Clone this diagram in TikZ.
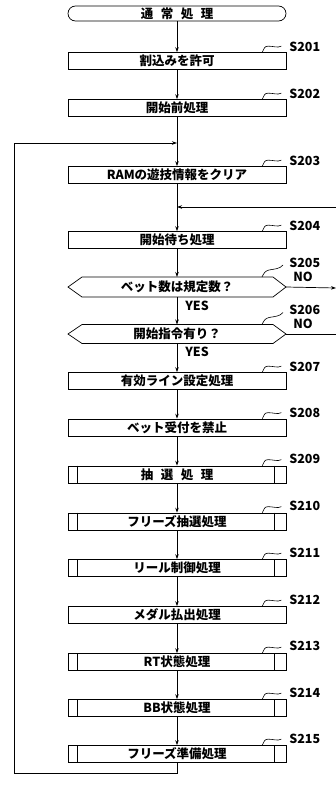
\documentclass[tikz,border=0pt]{standalone}
\usepackage{fontspec}
\setmainfont{Noto Sans CJK JP}
\usetikzlibrary{arrows.meta}
\begin{document}
\begin{tikzpicture}[x=1pt,y=-1pt,
  line width=0.7pt,
  font=\fontsize{12.5}{14}\selectfont\bfseries,
  proc/.style={draw,rectangle,minimum width=218pt,minimum height=17pt,inner sep=0pt},
  pre/.style={proc,append after command={
     ([xshift=10pt]\tikzlastnode.north west) edge[-] ([xshift=10pt]\tikzlastnode.south west)
     ([xshift=-12pt]\tikzlastnode.north east) edge[-] ([xshift=-12pt]\tikzlastnode.south east)}},
  term/.style={draw,rectangle,rounded corners=7.5pt,minimum width=218pt,minimum height=15pt,inner sep=0pt},
  txt/.style={inner sep=0pt},
  lab/.style={anchor=west,inner sep=0pt,font=\fontsize{12.5}{14}\selectfont\bfseries},
  arr/.style={-{Stealth[length=5pt,width=3.5pt]}},
  sq/.style={line width=0.6pt}
]
\useasboundingbox (0,0) rectangle (336,787);
% terminal
\node[term] (t0) at (177,13.5) {通\hspace{0.6em}常\hspace{0.6em}処\hspace{0.6em}理};
% process boxes
\node[proc] (s201) at (177,61) {割込みを許可};
\node[proc] (s202) at (177,108) {開始前処理};
\node[proc] (s203) at (177,175) {RAMの遊技情報をクリア};
\node[proc] (s204) at (177,240) {開始待ち処理};
% hexagons
\node[txt] (s205) at (177,287) {ベット数は規定数？};
\draw (68,287) -- (82,277) -- (273,277) -- (286,287) -- (273,297) -- (82,297) -- cycle;
\coordinate (s205t) at (177,277);
\coordinate (s205b) at (177,297);
\coordinate (s205r) at (286,287);
\node[txt] (s206) at (177,334) {開始指令有り？};
\draw (68,334) -- (82,324.5) -- (273,324.5) -- (286,334) -- (273,343.5) -- (82,343.5) -- cycle;
\coordinate (s206t) at (177,324.5);
\coordinate (s206b) at (177,343.5);
\coordinate (s206r) at (286,334);
\node[proc] (s207) at (177,381) {有効ライン設定処理};
\node[proc] (s208) at (177,427.5) {ベット受付を禁止};
\node[pre] (s209) at (177,474.5) {抽\hspace{0.6em}選\hspace{0.6em}処\hspace{0.6em}理};
\node[pre] (s210) at (177,521.5) {フリーズ抽選処理};
\node[pre] (s211) at (177,568) {リール制御処理};
\node[proc] (s212) at (177,615) {メダル払出処理};
\node[pre] (s213) at (177,662) {RT状態処理};
\node[pre] (s214) at (177,708) {BB状態処理};
\node[pre] (s215) at (177,754) {フリーズ準備処理};
% labels
\foreach \n/\y in {S201/47,S202/94,S203/161,S204/226,S207/367,S208/413,S209/459,S210/506,S211/553,S212/600,S213/646,S214/693,S215/739}{
  \node[lab] (l\n) at (289,\y) {\n};
}
\node[lab] (lS205) at (289,263) {S205};
\node[lab] (lS206) at (289,310) {S206};
\node[lab] (no1) at (293,277) {NO};
\node[lab] (no2) at (293,324) {NO};
\node[lab] (yes1) at (185,306) {YES};
\node[lab] (yes2) at (185,352) {YES};
% squiggles
\foreach \n in {s201,s202,s203,s204,s207,s208,s209,s210,s211,s212,s213,s214,s215}{
  \draw[sq] ([xshift=-24pt]\n.north east) .. controls +(2,-4) and +(-4,0) .. +(6,-6)
     .. controls +(5,0) and +(-4,2) .. +(19,-6);
}
\draw[sq] (262,277) .. controls +(2,-4) and +(-4,1) .. +(7,-7) .. controls +(5,-1) and +(-3,4) .. +(21,-12);
\draw[sq] (262,324.5) .. controls +(2,-4) and +(-4,1) .. +(7,-7) .. controls +(5,-1) and +(-3,4) .. +(21,-12);
% connectors
\coordinate (j1) at (177,143);
\coordinate (j2) at (177,207);
\coordinate (rin) at (336,207);
\coordinate (rout1) at (336,288);
\coordinate (rout2) at (336,334);
\coordinate (bl) at (177,773);
\coordinate (bll) at (14,773);
\coordinate (tll) at (14,143);
\draw[arr] (t0) -- (s201);
\draw[arr] (s201) -- (s202);
\draw[arr] (s202) -- (s203);
\draw[arr] (s203) -- (s204);
\draw[arr] (rin) -- (j2);
\draw[arr] (s204) -- (s205t);
\draw[arr] (s205b) -- (s206t);
\draw[arr] (s205r) -- (rout1);
\draw (s206r) -- (rout2);
\draw[arr] (s206b) -- (s207);
\draw[arr] (s207) -- (s208);
\draw[arr] (s208) -- (s209);
\draw[arr] (s209) -- (s210);
\draw[arr] (s210) -- (s211);
\draw[arr] (s211) -- (s212);
\draw[arr] (s212) -- (s213);
\draw[arr] (s213) -- (s214);
\draw[arr] (s214) -- (s215);
\draw[arr] (s215) -- (bl) -- (bll) -- (tll) -- (j1);
\end{tikzpicture}
\end{document}
